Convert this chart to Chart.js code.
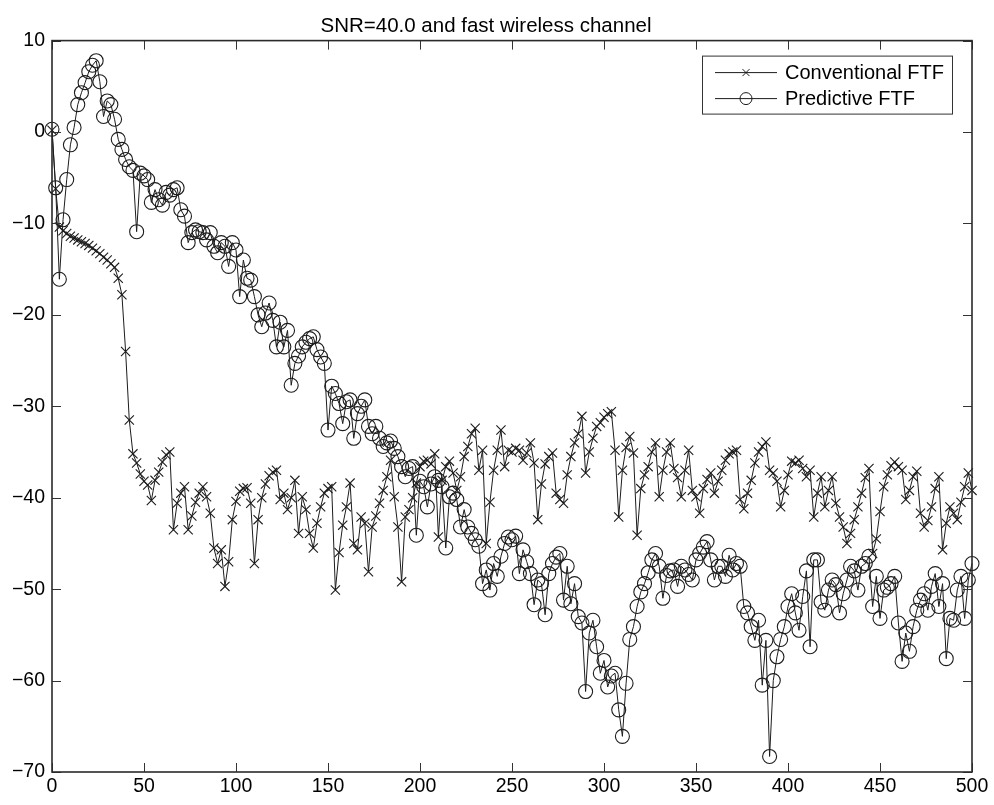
<!DOCTYPE html>
<html>
<head>
<meta charset="utf-8">
<title>SNR=40.0 and fast wireless channel</title>
<script src="https://cdn.jsdelivr.net/npm/chart.js@4.4.1/dist/chart.umd.min.js"></script>
<style>
  html, body { margin: 0; padding: 0; background: #fff; }
  #wrap { width: 994px; height: 805px; }
</style>
</head>
<body>
<div id="wrap"><canvas id="mse-chart" width="994" height="805"></canvas></div>
<script>
// one sample every STEP iterations
const STEP = 2;

// error curve of the conventional fast transversal filter (dB)
const conventional = [
    0.2, -6.2, -10.4, -10.8, -11.1, -11.4, -11.6, -11.8, -12.0, -12.2,
    -12.4, -12.7, -13.0, -13.3, -13.7, -14.0, -14.4, -14.8, -16.0, -17.8,
    -24.0, -31.5, -35.2, -36.2, -37.4, -38.2, -38.6, -40.3, -38.1, -37.2,
    -36.1, -35.3, -35.0, -43.5, -40.6, -39.5, -38.8, -43.5, -42.0, -40.5,
    -39.5, -38.8, -39.9, -41.7, -45.5, -47.2, -45.7, -49.7, -47.0, -42.4,
    -40.4, -39.3, -39.0, -38.9, -40.6, -47.2, -42.4, -40.0, -38.5, -37.6,
    -37.2, -37.0, -40.2, -39.5, -41.3, -40.0, -38.1, -43.9, -39.9, -41.3,
    -43.9, -45.5, -42.8, -41.0, -39.5, -39.0, -38.8, -50.1, -46.0, -43.0,
    -41.0, -38.4, -45.0, -45.7, -42.1, -42.8, -48.1, -43.2, -42.0, -40.6,
    -39.2, -37.7, -35.9, -39.9, -43.2, -49.2, -42.1, -41.3, -40.0, -38.4,
    -36.6, -36.0, -35.9, -36.3, -35.2, -44.3, -38.1, -36.6, -36.0, -37.3,
    -39.2, -37.7, -35.5, -34.4, -33.0, -32.4, -37.0, -34.8, -45.0, -40.5,
    -37.0, -34.8, -32.6, -36.6, -34.8, -35.0, -34.6, -34.8, -35.9, -35.1,
    -34.0, -36.2, -42.4, -38.5, -36.3, -35.5, -35.1, -39.5, -40.2, -40.6,
    -37.5, -35.5, -34.0, -33.0, -31.1, -37.3, -35.0, -33.5, -32.2, -31.8,
    -31.2, -30.8, -30.6, -34.8, -42.1, -37.0, -34.5, -33.3, -35.1, -44.1,
    -39.0, -37.5, -36.6, -35.0, -34.0, -39.9, -37.0, -35.0, -34.0, -36.8,
    -37.8, -39.9, -37.0, -34.8, -39.2, -39.9, -41.7, -39.0, -38.0, -37.3,
    -39.5, -38.2, -37.0, -35.9, -35.2, -35.0, -34.8, -40.2, -41.2, -39.5,
    -38.1, -36.2, -35.0, -34.4, -33.9, -37.0, -37.3, -38.2, -41.0, -39.2,
    -37.5, -36.0, -36.2, -35.9, -36.8, -37.7, -37.0, -42.1, -39.5, -37.7,
    -41.0, -39.2, -37.7, -40.6, -42.1, -43.2, -45.0, -43.9, -42.4, -41.0,
    -39.5, -37.8, -36.8, -46.1, -44.5, -41.5, -38.8, -37.5, -36.5, -36.1,
    -36.6, -37.0, -40.2, -39.2, -37.7, -37.1, -41.7, -43.2, -42.5, -41.0,
    -39.0, -37.7, -45.7, -42.8, -41.0, -41.7, -42.4, -40.5, -38.8, -37.3,
    -39.2
];

// error curve of the predictive fast transversal filter (dB)
const predictive = [
    0.3, -6.1, -16.1, -9.6, -5.2, -1.4, 0.5, 3.0, 4.3, 5.4,
    6.6, 7.3, 7.8, 5.5, 1.7, 3.4, 3.0, 1.4, -0.8, -1.9,
    -3.0, -3.8, -4.2, -10.9, -4.5, -4.8, -5.2, -7.7, -6.3, -7.4,
    -8.0, -6.6, -6.9, -6.3, -6.1, -8.5, -9.2, -12.1, -11.0, -10.7,
    -10.9, -11.0, -11.8, -11.0, -12.5, -13.2, -12.1, -12.5, -14.7, -12.1,
    -12.9, -18.0, -14.0, -16.0, -16.2, -18.0, -20.0, -21.3, -19.8, -18.7,
    -20.6, -23.5, -20.8, -23.5, -21.7, -27.7, -25.3, -24.5, -23.5, -23.0,
    -22.6, -22.4, -23.8, -24.6, -25.3, -32.6, -27.8, -28.6, -29.7, -31.9,
    -29.5, -29.3, -33.5, -30.8, -30.0, -29.3, -32.2, -33.0, -32.2, -33.5,
    -34.4, -34.0, -33.8, -34.6, -35.5, -36.6, -37.7, -36.8, -36.6, -44.1,
    -38.2, -38.8, -41.0, -38.5, -37.7, -38.1, -38.8, -45.5, -39.9, -39.5,
    -40.2, -43.2, -41.3, -43.2, -43.9, -44.6, -45.3, -49.4, -47.9, -50.1,
    -47.2, -48.6, -46.4, -45.0, -44.3, -44.6, -44.2, -48.3, -45.7, -47.0,
    -48.3, -51.7, -49.0, -49.4, -52.8, -48.3, -47.2, -46.5, -46.1, -51.2,
    -47.5, -51.6, -49.4, -53.0, -53.7, -61.2, -54.8, -53.4, -56.3, -59.2,
    -57.8, -60.7, -59.5, -59.2, -63.2, -66.1, -60.3, -55.5, -54.1, -51.9,
    -50.3, -49.4, -48.2, -46.8, -46.1, -47.5, -51.0, -48.5, -48.0, -47.9,
    -49.7, -47.5, -47.9, -48.4, -49.0, -46.8, -46.1, -45.4, -44.8, -46.8,
    -49.0, -47.5, -47.5, -48.6, -46.3, -47.9, -47.2, -47.5, -51.9, -52.6,
    -54.1, -55.6, -53.4, -60.5, -55.6, -68.3, -60.0, -57.4, -55.5, -54.1,
    -51.9, -50.5, -52.6, -54.5, -50.8, -48.0, -56.3, -46.8, -46.8, -51.4,
    -52.3, -50.1, -49.0, -49.5, -52.6, -50.5, -49.0, -47.5, -48.0, -50.1,
    -47.5, -47.2, -46.4, -51.9, -48.6, -53.2, -50.1, -49.8, -49.4, -48.6,
    -53.7, -57.9, -54.8, -56.8, -54.1, -52.3, -51.2, -50.5, -52.3, -49.7,
    -48.3, -51.9, -49.4, -57.6, -53.2, -53.4, -50.1, -48.6, -53.2, -49.0,
    -47.2
];

const seriesNames = ["Conventional FTF", "Predictive FTF"];
const titleText = "SNR=40.0 and fast wireless channel";

const INK = "#1c1c1c";
const FONT = '"Liberation Sans", Arial, Helvetica, sans-serif';

function toPoints(values) {
    return values.map(function (v, i) {
        return { x: i * STEP, y: v };
    });
}

function minusLabel(value) {
    return value < 0 ? "\u2212" + Math.abs(value) : String(value);
}

// matlab style box: frame on all sides, ticks pointing inwards
const boxAxes = {
    id: "boxAxes",
    afterDraw: function (chart) {
        const ctx = chart.ctx;
        const a = chart.chartArea;
        const xs = chart.scales.x;
        const ys = chart.scales.y;
        const len = 9;
        ctx.save();
        ctx.strokeStyle = "#333";
        ctx.lineWidth = 1;
        ctx.beginPath();
        xs.ticks.forEach(function (t) {
            const px = Math.round(xs.getPixelForValue(t.value)) + 0.5;
            ctx.moveTo(px, a.bottom); ctx.lineTo(px, a.bottom - len);
            ctx.moveTo(px, a.top); ctx.lineTo(px, a.top + len);
        });
        ys.ticks.forEach(function (t) {
            const py = Math.round(ys.getPixelForValue(t.value)) + 0.5;
            ctx.moveTo(a.left, py); ctx.lineTo(a.left + len, py);
            ctx.moveTo(a.right, py); ctx.lineTo(a.right - len, py);
        });
        ctx.stroke();
        ctx.lineWidth = 1.6;
        ctx.strokeStyle = "#2a2a2a";
        ctx.strokeRect(a.left, a.top, a.right - a.left, a.bottom - a.top);
        ctx.restore();
    }
};

// legend drawn as line + marker samples inside a box, top right
const lineLegend = {
    id: "lineLegend",
    afterDraw: function (chart) {
        const ctx = chart.ctx;
        const a = chart.chartArea;
        const boxW = 250, boxH = 58;
        const bx = a.right - 20 - boxW;
        const by = a.top + 15;
        ctx.save();
        ctx.fillStyle = "#fff";
        ctx.fillRect(bx, by, boxW, boxH);
        ctx.strokeStyle = "#333";
        ctx.lineWidth = 1;
        ctx.strokeRect(bx + 0.5, by + 0.5, boxW, boxH);
        ctx.font = "20px " + FONT;
        ctx.textBaseline = "middle";
        chart.data.datasets.forEach(function (ds, i) {
            const y = by + 17 + i * 26;
            const x0 = bx + 13, x1 = bx + 75, xm = (x0 + x1) / 2;
            ctx.strokeStyle = ds.borderColor;
            ctx.lineWidth = 1;
            ctx.beginPath();
            ctx.moveTo(x0, y); ctx.lineTo(x1, y);
            if (ds.pointStyle === "crossRot") {
                ctx.moveTo(xm - 3.5, y - 3.5); ctx.lineTo(xm + 3.5, y + 3.5);
                ctx.moveTo(xm - 3.5, y + 3.5); ctx.lineTo(xm + 3.5, y - 3.5);
                ctx.stroke();
            } else {
                ctx.stroke();
                ctx.beginPath();
                ctx.arc(xm, y, 6, 0, Math.PI * 2);
                ctx.stroke();
            }
            ctx.fillStyle = "#000";
            ctx.fillText(ds.label, x1 + 8, y + 1);
        });
        ctx.restore();
    }
};

new Chart(document.getElementById("mse-chart"), {
    type: "line",
    data: {
        datasets: [{
            label: seriesNames[0],
            data: toPoints(conventional),
            borderColor: INK,
            borderWidth: 1,
            pointStyle: "crossRot",
            pointRadius: 6.5,
            pointBorderWidth: 1.1,
            pointBorderColor: INK,
            pointBackgroundColor: "rgba(0,0,0,0)",
            fill: false,
            tension: 0,
            clip: false,
            order: 1
        }, {
            label: seriesNames[1],
            data: toPoints(predictive),
            borderColor: INK,
            borderWidth: 1,
            pointStyle: "circle",
            pointRadius: 7,
            pointBorderWidth: 1.1,
            pointBorderColor: INK,
            pointBackgroundColor: "rgba(0,0,0,0)",
            fill: false,
            tension: 0,
            clip: false,
            order: 0
        }]
    },
    options: {
        responsive: false,
        animation: false,
        devicePixelRatio: 1,
        layout: { padding: { left: 0, right: 22, top: 0, bottom: 0 } },
        plugins: {
            legend: { display: false },
            tooltip: { enabled: false },
            title: {
                display: true,
                text: titleText,
                color: "#000",
                font: { family: FONT, size: 20.5, weight: "normal", lineHeight: 1.2 },
                padding: { top: 14, bottom: 2 }
            }
        },
        scales: {
            x: {
                type: "linear",
                min: 0,
                max: 500,
                grid: { display: false, drawTicks: false },
                border: { display: false },
                ticks: {
                    stepSize: 50,
                    padding: 3,
                    color: "#000",
                    font: { family: FONT, size: 19.5 },
                    maxRotation: 0,
                    callback: minusLabel
                },
                afterFit: function (scale) { scale.height = 33; }
            },
            y: {
                min: -70,
                max: 10,
                grid: { display: false, drawTicks: false },
                border: { display: false },
                ticks: {
                    stepSize: 10,
                    padding: 7,
                    color: "#000",
                    font: { family: FONT, size: 19.5 },
                    callback: minusLabel
                },
                afterFit: function (scale) { scale.width = 52; }
            }
        }
    },
    plugins: [boxAxes, lineLegend]
});
</script>
</body>
</html>
